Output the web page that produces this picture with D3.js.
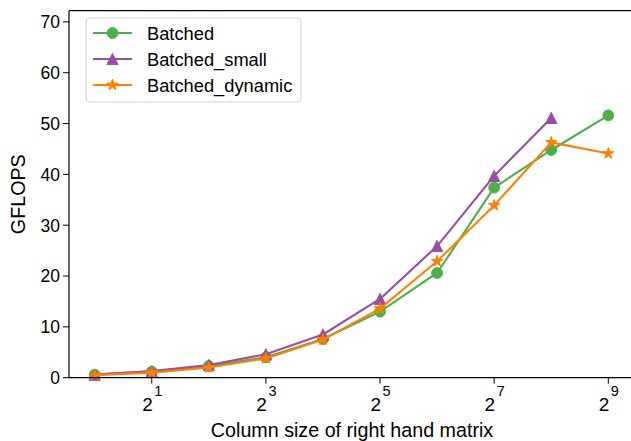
<!DOCTYPE html>
<html>
<head>
<meta charset="utf-8">
<script src="https://cdn.jsdelivr.net/npm/d3@7"></script>
<style>
  body { margin: 0; background: #fff; }
  text { font-family: "Liberation Sans", Arial, sans-serif; fill: #000; }
</style>
</head>
<body>
<svg id="chart" width="631" height="441"></svg>
<script>
// column sizes (powers of two)
const exponents = [0, 1, 2, 3, 4, 5, 6, 7, 8, 9];
const batched = [0.6, 1.2, 2.3, 4.0, 7.6, 13.0, 20.6, 37.4, 44.8, 51.6];
const batchedSmall = [0.6, 1.3, 2.5, 4.6, 8.5, 15.5, 25.9, 39.7, 51.1];
const batchedDynamic = [0.5, 1.0, 2.0, 3.8, 7.5, 13.6, 22.9, 33.9, 46.3, 44.1];
const xTickExps = [1, 3, 5, 7, 9];
const yTicks = [0, 10, 20, 30, 40, 50, 60, 70];

const series = [
    { name: "Batched", values: batched, color: "#4daf4a", marker: "circle" },
    { name: "Batched_small", values: batchedSmall, color: "#984ea3", marker: "triangle" },
    { name: "Batched_dynamic", values: batchedDynamic, color: "#ff7f00", marker: "star" }
];

const svg = d3.select("#chart");
const margin = { left: 69, top: 10.7, right: 634, bottom: 377.7 };

const x = d3.scaleLog().base(2)
    .domain([Math.pow(2, -0.45), Math.pow(2, 9.45)])
    .range([margin.left, margin.right]);
const y = d3.scaleLinear()
    .domain([0, 72.2])
    .range([margin.bottom, margin.top]);

// matplotlib-like '^' : as tall as it is wide
const triangle = { draw(ctx, size) {
    const h = Math.sqrt(size) / 2;
    ctx.moveTo(0, -h);
    ctx.lineTo(h, h);
    ctx.lineTo(-h, h);
    ctx.closePath();
} };

function markerPath(type) {
    if (type === "circle") return d3.symbol(d3.symbolCircle, 92)();
    if (type === "triangle") return d3.symbol(triangle, 125)();
    return d3.symbol(d3.symbolStar, 40)();
}

function drawMarker(sel, s) {
    return sel.attr("d", markerPath(s.marker))
        .attr("fill", s.color)
        .attr("stroke", s.color)
        .attr("stroke-width", 1)
        .attr("stroke-linejoin", "miter");
}

function drawSeries(g, s) {
    const pts = s.values.map((v, i) => [x(Math.pow(2, exponents[i])), y(v)]);
    g.append("path")
        .attr("d", d3.line()(pts))
        .attr("fill", "none")
        .attr("stroke", s.color)
        .attr("stroke-width", 2.1)
        .attr("stroke-linejoin", "round");
    g.selectAll(null)
        .data(pts)
        .join("path")
        .call(drawMarker, s)
        .attr("transform", d => `translate(${d[0]},${d[1]})`);
}

const plot = svg.append("g");
for (const s of series) drawSeries(plot, s);

// spines
const axisColor = "#000";
svg.append("line")
    .attr("x1", margin.left).attr("x2", margin.left)
    .attr("y1", margin.top).attr("y2", margin.bottom)
    .attr("stroke", axisColor).attr("stroke-width", 1.2);
svg.append("line")
    .attr("x1", margin.left).attr("x2", 631)
    .attr("y1", margin.bottom).attr("y2", margin.bottom)
    .attr("stroke", axisColor).attr("stroke-width", 1.2);
svg.append("line")
    .attr("x1", margin.left).attr("x2", 631)
    .attr("y1", margin.top).attr("y2", margin.top)
    .attr("stroke", axisColor).attr("stroke-width", 1.2);

// y ticks
const yt = svg.append("g").selectAll("g").data(yTicks).join("g")
    .attr("transform", d => `translate(0,${y(d)})`);
yt.append("line").attr("x1", margin.left - 6).attr("x2", margin.left)
    .attr("stroke", axisColor).attr("stroke-width", 1);
yt.append("text")
    .attr("x", margin.left - 9).attr("dy", "0.36em")
    .attr("text-anchor", "end")
    .style("font-size", "17.5px")
    .text(d => d);

// x ticks, labelled as 2^n
const xt = svg.append("g").selectAll("g").data(xTickExps).join("g")
    .attr("transform", d => `translate(${x(Math.pow(2, d))},0)`);
xt.append("line").attr("y1", margin.bottom).attr("y2", margin.bottom + 6)
    .attr("stroke", axisColor).attr("stroke-width", 1);
xt.append("text")
    .attr("x", 1).attr("y", 411)
    .attr("text-anchor", "end")
    .style("font-size", "19px")
    .text("2");
xt.append("text")
    .attr("x", 2.5).attr("y", 396)
    .style("font-size", "14.5px")
    .text(d => d);

// axis labels
svg.append("text")
    .attr("x", 352).attr("y", 437)
    .attr("text-anchor", "middle")
    .style("font-size", "19.7px")
    .text("Column size of right hand matrix");
svg.append("text")
    .attr("transform", `translate(25,${(margin.top + margin.bottom) / 2}) rotate(-90)`)
    .attr("text-anchor", "middle")
    .style("font-size", "19.7px")
    .text("GFLOPS");

// legend
const legend = svg.append("g").attr("transform", "translate(86,18)");
legend.append("rect")
    .attr("width", 215).attr("height", 84)
    .attr("rx", 4)
    .attr("fill", "#fff").attr("fill-opacity", 0.8)
    .attr("stroke", "#d0d0d0").attr("stroke-width", 1);
series.forEach((s, i) => {
    const row = legend.append("g").attr("transform", `translate(0,${15 + i * 26})`);
    row.append("line").attr("x1", 7).attr("x2", 46)
        .attr("stroke", s.color).attr("stroke-width", 2.1);
    row.append("path")
        .call(drawMarker, s)
        .attr("transform", "translate(26.5,0)");
    row.append("text").attr("x", 61).attr("dy", "0.36em")
        .style("font-size", "18.3px")
        .text(s.name);
});
</script>
</body>
</html>
